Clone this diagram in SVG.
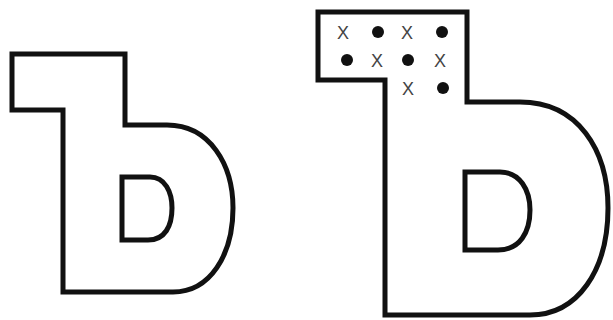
<svg xmlns="http://www.w3.org/2000/svg" width="613" height="320" viewBox="0 0 613 320">
<style>
.o{fill:#fff;stroke:#111;stroke-width:5;stroke-linejoin:miter}
.x{font-family:"Liberation Sans",Arial,sans-serif;font-size:18px;fill:#444;text-anchor:middle}
.d{fill:#111}
</style>
<rect width="613" height="320" fill="#fff"/>
<g id="left-sign">
<path class="o" d="M12,54 H125 V125 H167 C210,125 233,165 233,208 C233,255 210,292 173,292 H63 V110 H12 Z"/>
<path class="o" d="M122,177 H150 C165,177 172,192 172,208 C172,226 165,240 148,240 H122 Z"/>
</g>
<g id="right-sign">
<path class="o" d="M318,12 H467 V102 H520 C578,102 608,150 608,208 C608,270 578,315 530,315 H385 V80 H318 Z"/>
<path class="o" d="M465,172 H500 C520,172 530,190 530,210 C530,232 520,250 498,250 H465 Z"/>
<g id="marks">
<text class="x" x="343" y="39">X</text>
<circle class="d" cx="378" cy="32" r="6"/>
<text class="x" x="407" y="39">X</text>
<circle class="d" cx="442" cy="32" r="6"/>
<circle class="d" cx="347" cy="60" r="6"/>
<text class="x" x="377" y="67">X</text>
<circle class="d" cx="408" cy="60" r="6"/>
<text class="x" x="440" y="67">X</text>
<text class="x" x="408" y="95">X</text>
<circle class="d" cx="443" cy="88" r="6"/>
</g>
</g>
</svg>
